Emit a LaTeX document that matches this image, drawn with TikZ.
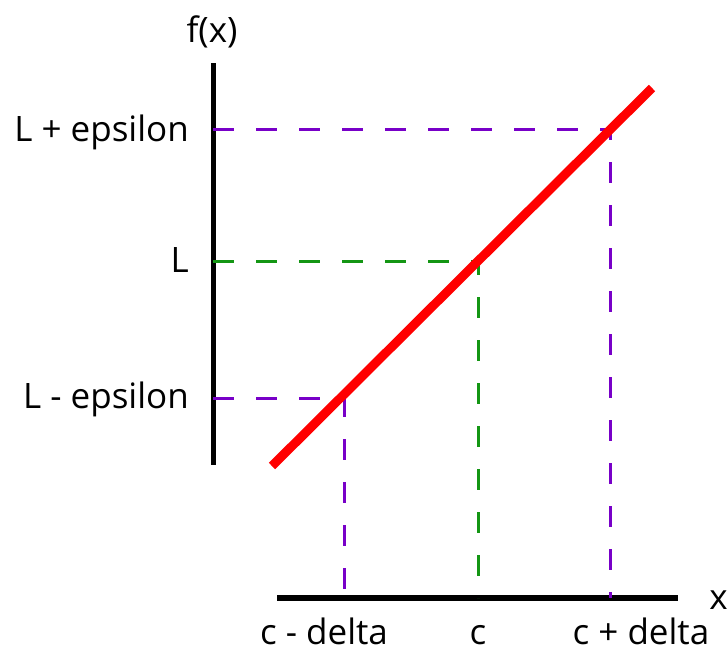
\documentclass[tikz,border=0pt]{standalone}
\usepackage{fontspec}
\setmainfont{Open Sans}
\definecolor{dpurple}{RGB}{120,0,200}
\definecolor{dgreen}{RGB}{20,150,20}
\begin{document}
\begin{tikzpicture}[x=1pt,y=-1pt,
  axis/.style={line width=5pt,black},
  graphline/.style={line width=9pt,red},
  guide/.style={line width=3pt,dash pattern=on 21pt off 22pt},
  lbl/.style={font=\fontsize{35}{40}\selectfont,inner sep=0pt}]
\useasboundingbox (0,0) rectangle (728,654);
% axes
\coordinate (ytop) at (213,63);
\coordinate (ybot) at (213,465);
\coordinate (xl) at (277,598);
\coordinate (xr) at (678,598);
\draw[axis] (ytop) -- (ybot);
\draw[axis,line width=6pt] (xl) -- (xr);
% points
\coordinate (pU) at (610,129);
\coordinate (pM) at (478,261);
\coordinate (pL) at (344,398);
\coordinate (aU) at (213,129);
\coordinate (aM) at (213,261);
\coordinate (aL) at (213,398);
\coordinate (bU) at (610,598);
\coordinate (bM) at (478,598);
\coordinate (bL) at (344,598);
% guides
\draw[guide,dpurple] (aU) -- (pU) -- (bU);
\draw[guide,dgreen] (aM) -- (pM) -- (bM);
\draw[guide,dpurple] (aL) -- (pL) -- (bL);
% graph
\coordinate (g1) at (272,466);
\coordinate (g2) at (652,88);
\draw[graphline] (g1) -- (g2);
% labels
\node[lbl,anchor=base] (fx) at (212,42) {f(x)};
\node[lbl,anchor=base east] (Lp) at (189,141) {L + epsilon};
\node[lbl,anchor=base east] (L) at (189,272) {L};
\node[lbl,anchor=base east] (Lm) at (189,408) {L - epsilon};
\node[lbl,anchor=base] (cm) at (324,644) {c - delta};
\node[lbl,anchor=base] (c) at (478,644) {c};
\node[lbl,anchor=base] (cp) at (641,644) {c + delta};
\node[lbl,anchor=base east] (x) at (728,609) {x};
\end{tikzpicture}
\end{document}
